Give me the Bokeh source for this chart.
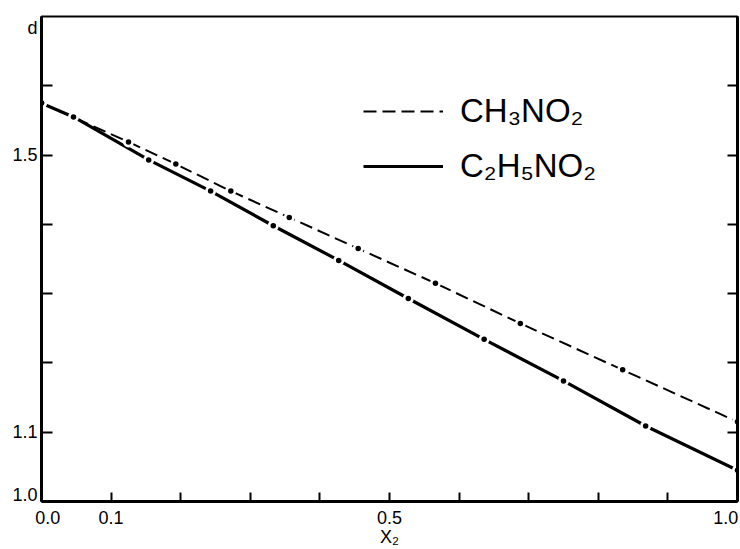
from bokeh.plotting import figure
from bokeh.models import (Range1d, LinearAxis, FixedTicker, Legend, LegendItem)
from bokeh.embed import file_html
from bokeh.resources import INLINE

# ---- data ----
x_ch3no2 = [0.0, 0.125, 0.193, 0.272, 0.356, 0.455, 0.566, 0.688, 0.835, 1.0]
d_ch3no2 = [1.575, 1.519, 1.487, 1.448, 1.410, 1.365, 1.315, 1.257, 1.190, 1.115]

x_c2h5no2 = [0.0, 0.046, 0.154, 0.243, 0.333, 0.427, 0.527, 0.636, 0.750, 0.868, 1.0]
d_c2h5no2 = [1.575, 1.555, 1.493, 1.448, 1.398, 1.348, 1.293, 1.234, 1.174, 1.109, 1.045]

series_names = ["CH\u2083NO\u2082", "C\u2082H\u2085NO\u2082"]

x_tick_marks = [0.1, 0.2, 0.3, 0.4, 0.5, 0.6, 0.7, 0.8, 0.9]
x_label_pos = [0.009, 0.1, 0.5, 0.983]
x_label_txt = ["0.0", "0.1", "0.5", "1.0"]

y_tick_marks = [1.1, 1.2, 1.3, 1.4, 1.5, 1.6]
y_label_pos = [1.009, 1.1, 1.5, 1.684]
y_label_txt = ["1.0", "1.1", "1.5", "d"]   # "d" is the axis title, set at the top

FONT = "Liberation Sans"

p = figure(width=740, height=549, output_backend="svg", toolbar_location=None,
           x_range=Range1d(0, 1), y_range=Range1d(1.0, 1.7),
           x_axis_type=None, y_axis_type=None,
           min_border_left=41, min_border_right=3, min_border_top=16, min_border_bottom=46)
p.grid.visible = False
p.outline_line_color = "black"
p.outline_line_width = 2
p.background_fill_color = "white"
p.border_fill_color = "white"

# axes
xaxis = LinearAxis(ticker=FixedTicker(ticks=x_label_pos, minor_ticks=x_tick_marks),
                   major_label_overrides=dict(zip(x_label_pos, x_label_txt)))
xaxis.axis_label = "X\u2082"
xaxis.axis_label_text_font = FONT
xaxis.axis_label_text_font_style = "normal"
xaxis.axis_label_text_font_size = "18px"
xaxis.axis_label_text_color = "black"
xaxis.axis_label_standoff = 0
xaxis.major_label_text_font = FONT
xaxis.major_label_text_font_size = "18px"
xaxis.major_label_text_color = "black"
xaxis.major_label_standoff = 9
xaxis.major_tick_in = 0
xaxis.major_tick_out = 0
xaxis.minor_tick_in = 9
xaxis.minor_tick_out = 0
xaxis.minor_tick_line_width = 2
xaxis.minor_tick_line_color = "black"
xaxis.axis_line_width = 3
p.add_layout(xaxis, "below")

yaxis = LinearAxis(ticker=FixedTicker(ticks=y_label_pos, minor_ticks=y_tick_marks),
                   major_label_overrides=dict(zip(y_label_pos, y_label_txt)))
yaxis.major_label_text_font = FONT
yaxis.major_label_text_font_size = "18px"
yaxis.major_label_text_color = "black"
yaxis.major_label_standoff = 4
yaxis.major_tick_in = 0
yaxis.major_tick_out = 0
yaxis.minor_tick_in = 11
yaxis.minor_tick_out = 0
yaxis.minor_tick_line_width = 2
yaxis.minor_tick_line_color = "black"
yaxis.axis_line_width = 3
p.add_layout(yaxis, "left")

raxis = LinearAxis(ticker=FixedTicker(ticks=[], minor_ticks=y_tick_marks))
raxis.major_label_text_font_size = "0px"
raxis.major_label_standoff = 0
raxis.major_tick_in = 0
raxis.major_tick_out = 0
raxis.minor_tick_in = 10
raxis.minor_tick_out = 0
raxis.minor_tick_line_width = 2
raxis.axis_line_width = 3
p.add_layout(raxis, "right")

# lines
r1 = p.line(x_ch3no2, d_ch3no2, line_color="black", line_width=2, line_dash="13 6")
r2 = p.line(x_c2h5no2, d_c2h5no2, line_color="black", line_width=3.2)

# white gaps around data points, then the dots
p.scatter(x_ch3no2, d_ch3no2, size=11, fill_color="white", line_color=None)
p.scatter(x_c2h5no2, d_c2h5no2, size=11, fill_color="white", line_color=None)
p.scatter(x_ch3no2, d_ch3no2, size=5.5, fill_color="black", line_color=None)
p.scatter(x_c2h5no2, d_c2h5no2, size=5.5, fill_color="black", line_color=None)

legend = Legend(items=[LegendItem(label=series_names[0], renderers=[r1]),
                       LegendItem(label=series_names[1], renderers=[r2])],
                location=(322, 315), padding=0, margin=0, spacing=15,
                glyph_width=80, glyph_height=40, label_height=40, label_standoff=17,
                label_text_font=FONT, label_text_font_size="33px",
                label_text_color="black",
                border_line_color=None, background_fill_alpha=0)
p.add_layout(legend)

open("out.html", "w").write(file_html(p, INLINE))
